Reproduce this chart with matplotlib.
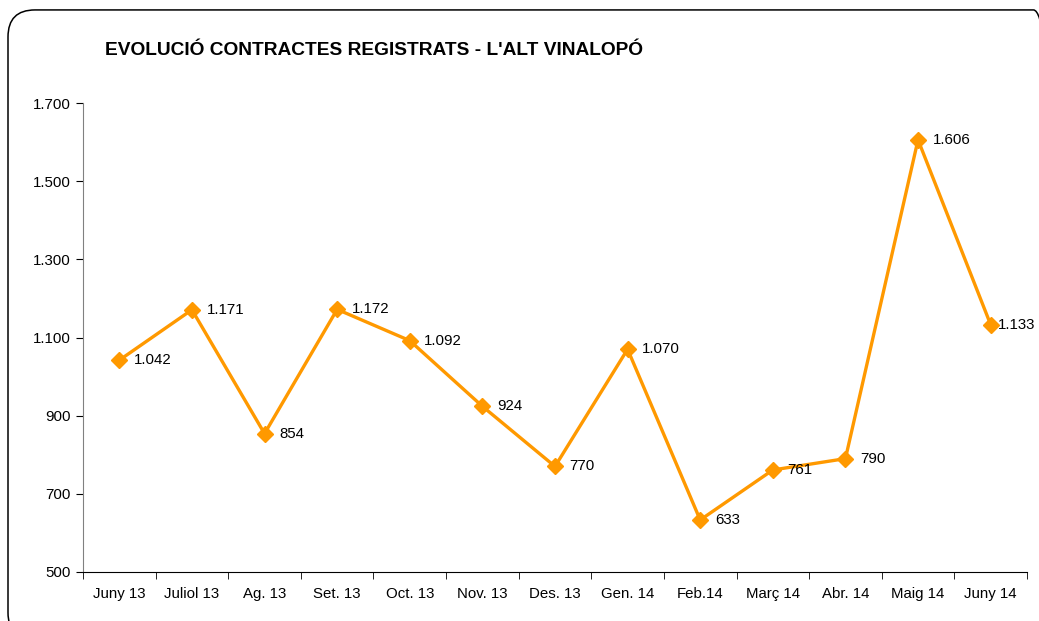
import matplotlib.pyplot as plt
from matplotlib.patches import FancyBboxPatch

plt.rcParams['font.family'] = ['Liberation Sans', 'DejaVu Sans']

# ---- data ------------------------------------------------------------------
months = ["Juny 13", "Juliol 13", "Ag. 13", "Set. 13", "Oct. 13", "Nov. 13",
          "Des. 13", "Gen. 14", "Feb.14", "Març 14", "Abr. 14", "Maig 14", "Juny 14"]
contracts = [1042, 1171, 854, 1172, 1092, 924, 770, 1070, 633, 761, 790, 1606, 1133]
y_ticks = [500, 700, 900, 1100, 1300, 1500, 1700]


def fmt(v):
    # thousands separator as dot (Catalan style)
    return f"{v:,}".replace(",", ".")


fig = plt.figure(figsize=(10.39, 6.21), dpi=100)
ax = fig.add_axes([0.0799, 0.079, 0.9085, 0.755])

# rounded frame around the chart area (runs off the right/bottom edge)
frame = FancyBboxPatch((0.0077, -0.03), 1.013, 1.014, transform=fig.transFigure,
                       boxstyle="round,pad=0,rounding_size=0.026",
                       facecolor="none", edgecolor="black", linewidth=1.1,
                       mutation_aspect=1039 / 621)
fig.patches.append(frame)

x = range(len(months))
ax.plot(x, contracts, color="#FF9900", linewidth=2.4, marker="D",
        markersize=8, markeredgecolor="#FF9900", zorder=3, clip_on=False)

for i, v in enumerate(contracts):
    # last label is squeezed against the edge, as in the original
    dx = 5.5 if i == len(contracts) - 1 else 10.5
    ax.annotate(fmt(v), (i, v), xytext=(dx, 0), textcoords="offset points",
                ha="left", va="center", fontsize=10.8)

ax.set_xlim(-0.5, len(months) - 0.5)
ax.set_ylim(500, 1700)
ax.set_yticks(y_ticks)
ax.set_yticklabels([fmt(t) for t in y_ticks])
ax.set_xticks(list(x))
ax.set_xticklabels(months)
ax.set_xticks([i - 0.5 for i in range(len(months) + 1)], minor=True)
ax.tick_params(axis="x", which="major", length=0, pad=11, labelsize=10.8)
ax.tick_params(axis="x", which="minor", length=5, direction="out", color="black")
ax.tick_params(axis="y", length=5, direction="out", labelsize=10.8, pad=4)

for s in ["top", "right"]:
    ax.spines[s].set_visible(False)
ax.spines["left"].set_color("#808080")
ax.spines["bottom"].set_color("black")

fig.text(0.101, 0.919, "EVOLUCIÓ CONTRACTES REGISTRATS - L'ALT VINALOPÓ",
         fontsize=13.8, fontweight="bold", ha="left", va="center")

fig.savefig("out.png", dpi=100)
